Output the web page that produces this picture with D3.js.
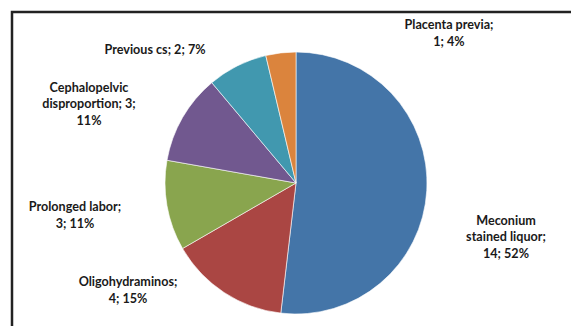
<!DOCTYPE html>
<html>
<head>
<meta charset="utf-8">
<script src="https://cdn.jsdelivr.net/npm/d3@7"></script>
<style>
  html, body { margin: 0; padding: 0; background: #fff; }
  svg { display: block; }
</style>
</head>
<body>
<svg id="chart" width="571" height="326"></svg>
<script>
// Indications, counts and slice colours (clockwise from 12 o'clock)
const categories = ["Meconium stained liquor", "Oligohydraminos", "Prolonged labor",
                    "Cephalopelvic disproportion", "Previous cs", "Placenta previa"];
const counts = [14, 4, 3, 3, 2, 1];
const colors = ["#4475A8", "#AA4643", "#89A54E", "#71588F", "#4198AF", "#DB843D"];

// Label layout: centre of each label block and its line breaks
const labelLayout = [
  { x: 506, y: 237, lines: l => ["Meconium", "stained liquor;", l.tail] },
  { x: 128, y: 290, lines: l => [l.name + ";", l.tail] },
  { x: 75,  y: 215, lines: l => [l.name + ";", l.tail] },
  { x: 89,  y: 104, lines: l => ["Cephalopelvic", "disproportion; " + l.value + ";", l.pct] },
  { x: 155, y: 50,  lines: l => [l.name + "; " + l.tail] },
  { x: 449, y: 33,  lines: l => [l.name + ";", l.tail] }
];

const svg = d3.select("#chart");
const W = 571, H = 326;
const cx = 296, cy = 183, R = 131;

// Frame of the chart area
svg.append("path")
  .attr("d", `M12,${H + 5} L12,12 L${W + 5},12`)
  .attr("fill", "none")
  .attr("stroke", "#222")
  .attr("stroke-width", 2.5);

const total = d3.sum(counts);
const data = categories.map((c, i) => ({ name: c, value: counts[i], color: colors[i] }));

const pie = d3.pie().value(d => d.value).sort(null);
const arc = d3.arc().innerRadius(0).outerRadius(R);

const g = svg.append("g").attr("transform", `translate(${cx},${cy})`);
g.selectAll("path.slice")
  .data(pie(data))
  .join("path")
  .attr("class", "slice")
  .attr("d", arc)
  .attr("fill", d => d.data.color)
  .attr("stroke", "#fff")
  .attr("stroke-width", 0.6);

// Data labels: "name; value; percent"
const lineH = 16.5;
data.forEach((d, i) => {
  const pct = Math.round(d.value / total * 100) + "%";
  const info = { name: d.name, value: d.value, pct: pct, tail: d.value + "; " + pct };
  const lay = labelLayout[i];
  const lines = lay.lines(info);
  const t = svg.append("text")
    .attr("text-anchor", "middle")
    .attr("font-family", "Lato, 'Open Sans', sans-serif")
    .attr("font-weight", "bold")
    .attr("font-size", "12.6px")
    .attr("fill", "#1a1a1a");
  const y0 = lay.y - (lines.length - 1) * lineH / 2;
  lines.forEach((s, k) => {
    t.append("tspan")
      .attr("x", lay.x)
      .attr("y", y0 + k * lineH)
      .attr("dy", "0.35em")
      .text(s);
  });
});
</script>
</body>
</html>
